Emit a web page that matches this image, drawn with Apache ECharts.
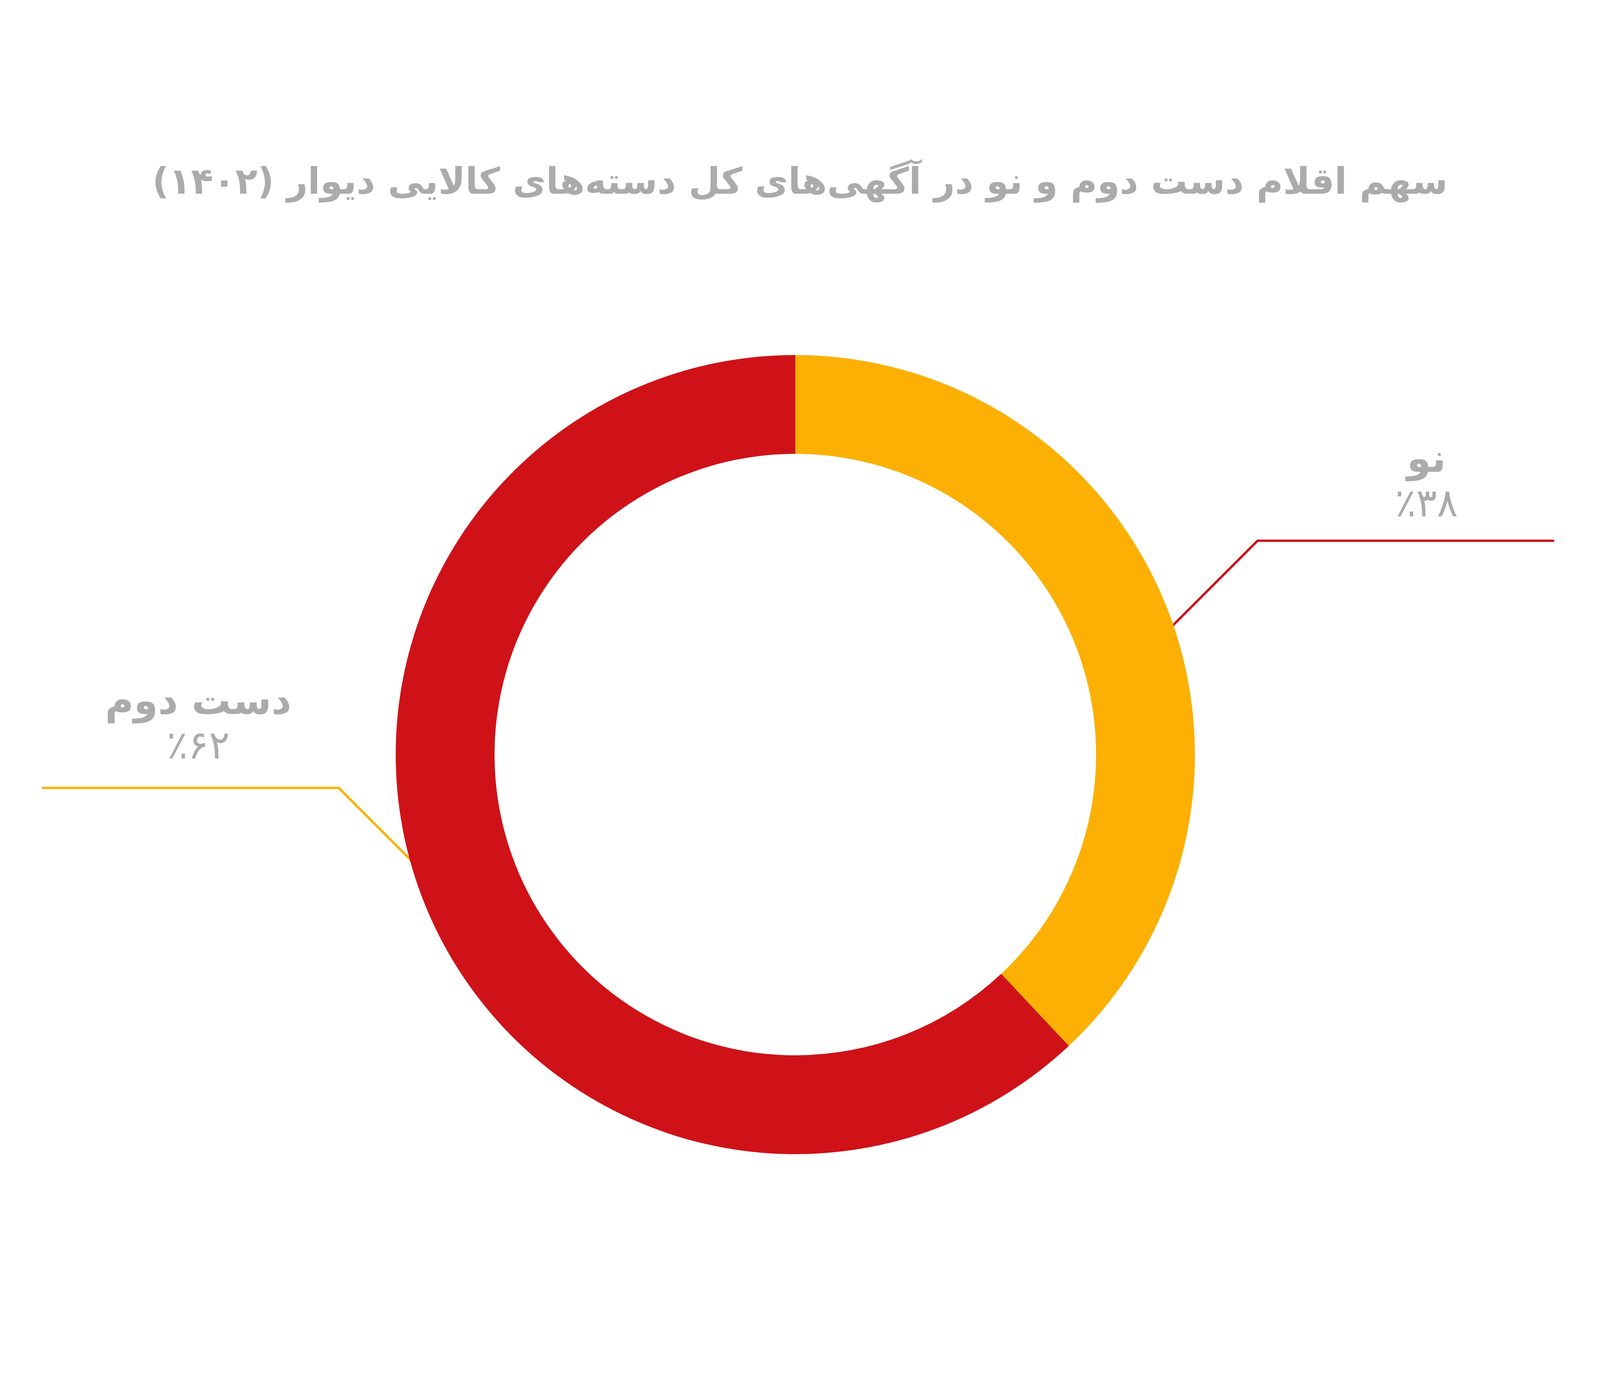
<!DOCTYPE html>
<html lang="fa">
<head>
<meta charset="utf-8">
<title>سهم اقلام دست دوم و نو</title>
<script src="https://cdn.jsdelivr.net/npm/echarts@6/dist/echarts.min.js"></script>
<style>
  html, body { margin: 0; padding: 0; background: #ffffff; overflow: hidden; }
  #chart { width: 100vw; height: 100vh; direction: rtl; }
</style>
</head>
<body>
<div id="chart"></div>
<script>
// ---- data ----
const titleText = 'سهم اقلام دست دوم و نو در آگهی\u200cهای کل دسته\u200cهای کالایی دیوار (۱۴۰۲)';
const categories = ['نو', 'دست دوم'];
const shares = [38, 62];

// ---- styles ----
const sliceColors = ['#FBB003', '#CF1218'];
const leaderColors = ['#CF1218', '#FBB003'];
const textGray = '#ABABAB';
const FONT = '"DejaVu Sans", "Noto Sans", sans-serif';

// layout constants (pixels, in a 5676-wide design; centred in the actual viewport)
const DESIGN_W = 5676;
const CENTER_D = [2826, 1932];
const RADII = [770, 1023];
const anchorNudgeDeg = [-4, -1.4];   // leader start offset along the ring
const anchorRadiusFrac = 0.955;      // leader start, fraction of outer radius
const diagLen = 252;                 // 45deg segment (px per axis)
const horizLen = 757;                // horizontal segment
const labelShift = [54, 19];         // label centre offset from horizontal segment middle
const labelGap = [34, 46];           // gap between label bottom and line

const toFa = n => String(n).replace(/\d/g, d => '۰۱۲۳۴۵۶۷۸۹'[d]);

const chart = echarts.init(document.getElementById('chart'), null, { renderer: 'canvas' });
const offsetX = (chart.getWidth() - DESIGN_W) / 2;
const CENTER = [CENTER_D[0] + offsetX, CENTER_D[1]];

const total = shares.reduce((a, b) => a + b, 0);

function labelLayout(params) {
  const cx = CENTER[0], cy = CENTER[1];
  const R = RADII[1];
  const i = params.dataIndex;
  let cum = 0;
  for (let k = 0; k < i; k++) cum += shares[k];
  const midFromTop = (cum + shares[i] / 2) / total * 360;
  const theta = (90 - midFromTop + anchorNudgeDeg[i]) * Math.PI / 180;
  const rs = R * anchorRadiusFrac;
  const sx = cx + rs * Math.cos(theta);
  const sy = cy - rs * Math.sin(theta);
  const side = Math.cos(theta) >= 0 ? 1 : -1;
  const ex = sx + side * diagLen, ey = sy - diagLen;
  const fx = ex + side * horizLen, fy = ey;
  return {
    x: (ex + fx) / 2 + labelShift[i],
    y: ey - labelGap[i],
    align: 'center',
    verticalAlign: 'bottom',
    labelLinePoints: [[sx, sy], [ex, ey], [fx, fy]]
  };
}

const option = {
  backgroundColor: '#ffffff',
  animation: false,
  title: {
    text: titleText,
    left: 'center',
    top: 420,
    textStyle: {
      fontFamily: FONT,
      fontWeight: 'bold',
      fontSize: 93,
      color: textGray
    }
  },
  series: [{
    type: 'pie',
    center: CENTER,
    radius: RADII,
    startAngle: 90,
    clockwise: true,
    avoidLabelOverlap: false,
    silent: true,
    itemStyle: { borderWidth: 0 },
    label: {
      show: true,
      position: 'outside',
      formatter: p => '{n|' + p.name + '}\n{p|٪' + toFa(p.value) + '}',
      rich: {
        n: { fontFamily: FONT, fontWeight: 'bold', fontSize: 100, color: textGray, lineHeight: 118, align: 'center' },
        p: { fontFamily: FONT, fontWeight: 'normal', fontSize: 100, color: textGray, lineHeight: 110, align: 'center' }
      }
    },
    labelLine: { show: true, smooth: false, length: 10, length2: 10, lineStyle: { width: 6, cap: 'round' } },
    labelLayout: labelLayout,
    data: categories.map((c, i) => ({
      name: c,
      value: shares[i],
      itemStyle: { color: sliceColors[i] },
      labelLine: { lineStyle: { color: leaderColors[i], width: 6, cap: 'round' } }
    }))
  }]
};

chart.setOption(option);
</script>
</body>
</html>
